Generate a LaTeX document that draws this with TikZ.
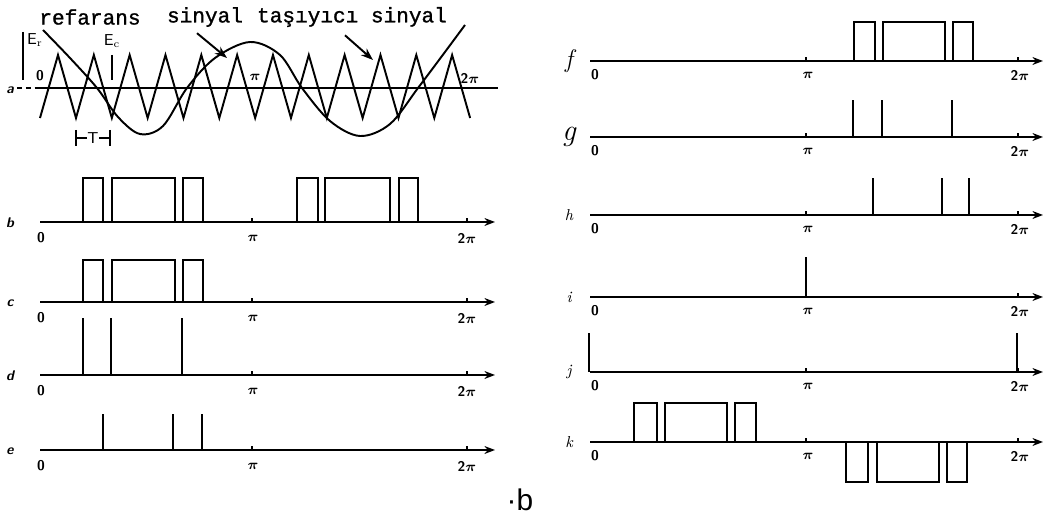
\documentclass[tikz,border=0pt]{standalone}
\usepackage{fontspec}
\newfontfamily\typefont[FakeBold=1.2]{Liberation Mono}
\newfontfamily\capfont{Liberation Sans}
\usetikzlibrary{arrows.meta}
\tikzset{
  sig/.style={line width=1.1pt, line join=miter},
  axis/.style={line width=1.1pt, -{Stealth[length=6pt, width=4.5pt]}},
  guide/.style={line width=0.8pt},
  tick/.style={font=\sffamily\bfseries\boldmath\footnotesize, inner sep=0pt},
  tag/.style={font=\sffamily\bfseries\itshape\footnotesize, inner sep=0pt},
  word/.style={font=\typefont\fontsize{12}{14}\selectfont, inner sep=0pt},
  pointer/.style={line width=1.1pt, -{Stealth[length=7pt, width=5pt]}},
}

\begin{document}
\begin{tikzpicture}[x=0.02cm, y=-0.02cm]
  \useasboundingbox (0,0) rectangle (1046,520);

  % panel a: carrier and reference
  \coordinate (a0) at (40,88);
  \coordinate (a1) at (498,88);
  \draw[line width=0.9pt, densely dashed] (17,88) -- (a0);
  \draw[line width=0.9pt] (a0) -- (a1);
  \draw[sig] (40,118) \foreach \k in {0,...,11} { -- (58+35.83*\k,55) -- (76+35.83*\k,118) };
  \draw[sig] plot[smooth, tension=0.55] coordinates {(43,30) (70,58) (97,88) (118,117)
    (140,134) (163,126) (187,88) (215,58) (250,42) (280,55) (302,88) (330,121)
    (360,136) (390,124) (418,88) (442,56) (465,25)};

  \node[word] (refw) at (90,17) {refarans};
  \node[word] (sinw) at (205,17) {sinyal};
  \node[word] (carw) at (352,17) {taşıyıcı sinyal};
  \coordinate (sintip) at (227,58);
  \coordinate (cartip) at (373,60);
  \draw[pointer] ([shift={(-8,6)}]sinw.south) -- (sintip);
  \draw[pointer] ([shift={(-7,8)}]carw.south) -- (cartip);

  \node[tick, font=\sffamily\small] (er) at (35,40) {E$_\mathrm{r}$};
  \node[tick, font=\sffamily\small] (ec) at (112,41) {E$_\mathrm{c}$};
  \draw[guide] (23,32) -- (23,80);
  \draw[guide] (112,55) -- (112,80);
  \node[tick] (az) at (40,76) {0};
  \node[tick] (ap) at (255,77) {$\pi$};
  \node[tick] (a2p) at (470,78) {2$\pi$};
  \node[tag] (atag) at (10,90) {a};

  % period marker
  \node[tick, font=\sffamily\small] (per) at (93,138) {T};
  \draw[guide] (76,130) -- (76,146) (110,130) -- (110,146);
  \draw[guide] (76,138) -- (per.west) (per.east) -- (110,138);

  % axes, left column
  \foreach \p/\y in {b/222, c/302, d/375, e/450} {
    \coordinate (\p0) at (40,\y);
    \coordinate (\p1) at (495,\y);
    \draw[axis] (\p0) -- (\p1);
    \draw[guide] (252,\y) -- ++(0,-4) (467,\y) -- ++(0,-4);
    \node[tick] (\p-z) at (41,\y+16) {0};
    \node[tick] (\p-pi) at (253,\y+16) {$\pi$};
    \node[tick] (\p-tpi) at (467,\y+16) {2$\pi$};
    \node[tag] (\p-tag) at (10,\y+1) {\p};
  }

  % axes, right column
  \foreach \p/\y/\s in {f/61/\Large, g/137/\LARGE, h/215/\small, i/297/\small, j/372/\small, k/442/\small} {
    \coordinate (\p0) at (590,\y);
    \coordinate (\p1) at (1043,\y);
    \draw[axis] (\p0) -- (\p1);
    \draw[guide] (806,\y) -- ++(0,-4) (1018,\y) -- ++(0,-4);
    \node[tick] (\p-z) at (595,\y+14) {0};
    \node[tick] (\p-pi) at (808,\y+14) {$\pi$};
    \node[tick] (\p-tpi) at (1020,\y+14) {2$\pi$};
    \node[tag, font=\itshape\s] (\p-tag) at (569,\y) {\p};
  }

  % b
  \foreach \u/\v in {83/103, 112/175, 183/203, 297/318, 325/390, 399/418}
    \draw[sig] (\u,222) |- (\v,178) -- (\v,222);
  % c
  \foreach \u/\v in {83/103, 112/175, 183/203}
    \draw[sig] (\u,302) |- (\v,260) -- (\v,302);
  % d
  \foreach \u in {83, 111, 182}
    \draw[sig] (\u,375) -- (\u,318);
  % e
  \foreach \u in {103, 173, 202}
    \draw[sig] (\u,450) -- (\u,414);
  % f
  \foreach \u/\v in {854/875, 883/945, 953/973}
    \draw[sig] (\u,61) |- (\v,22) -- (\v,61);
  % g
  \foreach \u in {853, 882, 952}
    \draw[sig] (\u,137) -- (\u,100);
  % h
  \foreach \u in {873, 942, 969}
    \draw[sig] (\u,215) -- (\u,178);
  % i
  \draw[sig] (806,297) -- (806,257);
  % j
  \foreach \u in {589, 1017}
    \draw[sig] (\u,372) -- (\u,333);
  % k
  \foreach \u/\v in {634/657, 665/727, 735/756}
    \draw[sig] (\u,442) |- (\v,403) -- (\v,442);
  \foreach \u/\v in {846/868, 877/939, 947/967}
    \draw[sig] (\u,442) |- (\v,482) -- (\v,442);

  \node[font=\capfont\fontsize{17}{19}\selectfont, inner sep=0pt] (cap) at (520,500) {·b};
\end{tikzpicture}
\end{document}
